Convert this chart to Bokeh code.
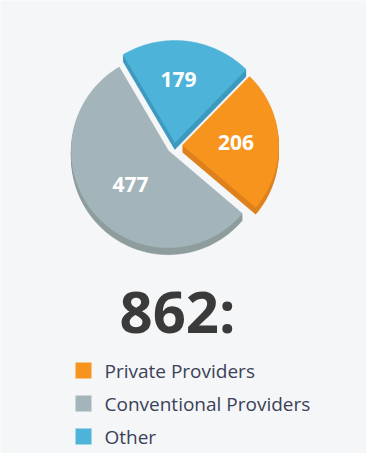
import numpy as np
from bokeh.plotting import figure
from bokeh.models import Range1d
from bokeh.embed import file_html
from bokeh.resources import INLINE
from bokeh.core.properties import value

# ---- data ----
categories = ["Private Providers", "Conventional Providers", "Other"]
counts = [206, 477, 179]
total_label = "862:"
face_colors = ["#f7941e", "#a3b5ba", "#4eb3d8"]
side_colors = ["#de801c", "#8e9c9e", "#3d99bd"]

# ---- layout / style ----
W, H = 366, 453
PAGE_H = 469
BG = "#f5f6f8"
FONT = "Open Sans"
start_deg = 45.7           # math angle, slices go clockwise
cx, cy = 182, PAGE_H - 153
explode = [8, 8, 3]
radius = [96, 97, 102]
label_frac = [0.58, 0.55, 0.62]
label_shift = [-2, 3, -4]   # small horizontal nudges (px)
depth = 7

p = figure(width=W, height=H, x_range=Range1d(8, 8 + W),
           y_range=Range1d(PAGE_H - 8 - H, PAGE_H - 8),
           output_backend="svg", toolbar_location=None, min_border=0)
p.axis.visible = False
p.xgrid.visible = False
p.ygrid.visible = False
p.outline_line_color = None
p.background_fill_color = BG
p.border_fill_color = BG

total = float(sum(counts))
spans = [c / total * 360.0 for c in counts]

faces_x, faces_y = [], []
label_x, label_y = [], []
a0 = start_deg
for i, span in enumerate(spans):
    a1 = a0 - span
    mid = np.radians((a0 + a1) / 2)
    ax = cx + explode[i] * np.cos(mid)
    ay = cy + explode[i] * np.sin(mid)
    t = np.radians(np.linspace(a0, a1, 120))
    xs = np.concatenate([[ax], ax + radius[i] * np.cos(t), [ax]])
    ys = np.concatenate([[ay], ay + radius[i] * np.sin(t), [ay]])
    faces_x.append(xs)
    faces_y.append(ys)
    label_x.append(ax + label_frac[i] * radius[i] * np.cos(mid) + label_shift[i])
    label_y.append(ay + label_frac[i] * radius[i] * np.sin(mid))
    a0 = a1

# sides (extrusion downward)
for i in range(len(counts)):
    for k in range(1, depth + 1):
        p.patch(faces_x[i], faces_y[i] - k, fill_color=side_colors[i],
                line_color=side_colors[i], line_width=0.5)
# faces
for i in range(len(counts)):
    p.patch(faces_x[i], faces_y[i], fill_color=face_colors[i],
            line_color=face_colors[i], line_width=0.5)

p.text(x=label_x, y=label_y, text=[str(c) for c in counts],
       text_font=value(FONT), text_font_style="bold", text_font_size="21px",
       text_color="white", text_align="center", text_baseline="middle")

p.text(x=[185], y=[PAGE_H - 318], text=[total_label],
       text_font=value(FONT), text_font_style="bold", text_font_size="58px",
       text_color="#3a3a3a", text_align="center", text_baseline="middle")

leg_y = [PAGE_H - (378 + 33 * i) for i in range(len(categories))]
p.rect(x=[91] * len(categories), y=leg_y, width=16, height=16,
       fill_color=face_colors, line_color=None)
p.text(x=[112] * len(categories), y=leg_y, text=categories,
       text_font=value(FONT), text_font_size="19px", text_color="#3b4157",
       text_align="left", text_baseline="middle")

html = file_html(p, INLINE)
html = html.replace("<body>", '<body style="background-color:%s">' % BG, 1)
open("out.html", "w").write(html)
